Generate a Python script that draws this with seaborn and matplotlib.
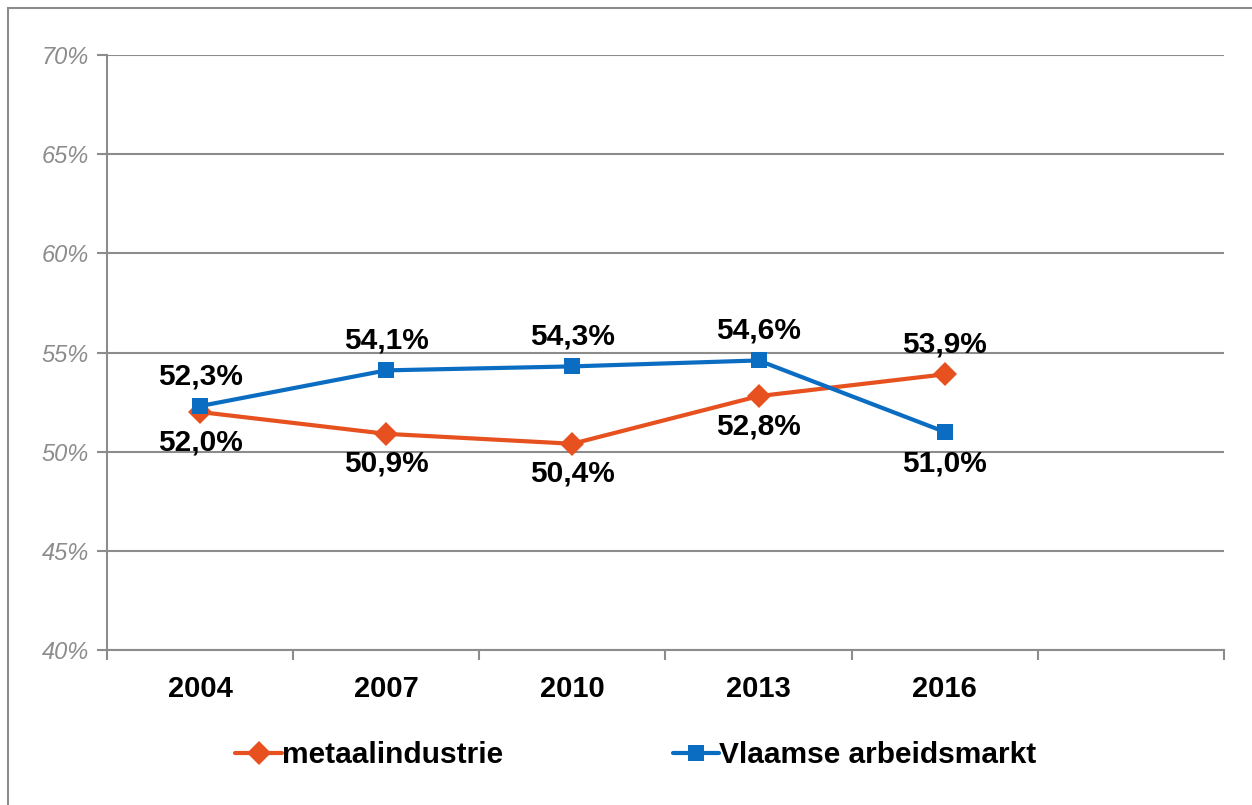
import pandas as pd
import seaborn as sns
import matplotlib.pyplot as plt
from matplotlib.patches import Rectangle
from matplotlib.ticker import FixedLocator

# Data
years = ['2004', '2007', '2010', '2013', '2016']
metaal = [52.0, 50.9, 50.4, 52.8, 53.9]
vlaams = [52.3, 54.1, 54.3, 54.6, 51.0]
series = ['metaalindustrie', 'Vlaamse arbeidsmarkt']

df = pd.DataFrame({
    'year': years * 2,
    'value': metaal + vlaams,
    'series': [series[0]] * len(years) + [series[1]] * len(years),
})

sns.set_style('white')
plt.rcParams['font.family'] = ['Liberation Sans', 'DejaVu Sans']
plt.rcParams['text.color'] = 'black'

orange = '#E6511F'
blue = '#0A6DC2'
grey = '#8C8C8C'

fig = plt.figure(figsize=(12.52, 8.05), dpi=100)
ax = fig.add_axes([0.0855, 0.1925, 0.892, 0.7392])

sns.lineplot(data=df, x='year', y='value', hue='series', style='series',
             hue_order=series, style_order=series,
             palette={series[0]: orange, series[1]: blue},
             markers={series[0]: 'D', series[1]: 's'}, dashes=False,
             linewidth=3, markersize=12, markeredgewidth=0, ax=ax)

# data labels
lab_kw = dict(fontsize=21.5, fontweight='bold', color='black', ha='center', va='center')
for i, v in enumerate(metaal):
    dy = 30 if i == 4 else -30
    ax.annotate(f'{v:.1f}%'.replace('.', ','), (i, v), xytext=(0, dy),
                textcoords='offset pixels', **lab_kw)
for i, v in enumerate(vlaams):
    dy = -32 if i == 4 else 30
    ax.annotate(f'{v:.1f}%'.replace('.', ','), (i, v), xytext=(0, dy),
                textcoords='offset pixels', **lab_kw)

ax.set_xlim(-0.5, 5.5)
ax.set_ylim(40, 70)
ax.set_yticks(range(40, 71, 5))
ax.set_yticklabels([f'{t}%' for t in range(40, 71, 5)], fontsize=17,
                   style='italic', color=grey)
ax.set_xticks(range(len(years)))
ax.set_xticklabels(years, fontsize=21, fontweight='bold', color='black')
ax.xaxis.set_minor_locator(FixedLocator([x - 0.5 for x in range(7)]))
ax.tick_params(axis='x', which='major', bottom=True, length=0, pad=18)
ax.tick_params(axis='x', which='minor', bottom=True, length=7, width=1.5,
               color=grey, direction='out')
ax.tick_params(axis='y', left=True, length=7, width=1.5, color=grey,
               direction='out', pad=6)
ax.set_xlabel('')
ax.set_ylabel('')

ax.yaxis.grid(True, color=grey, linewidth=1.5)
ax.set_axisbelow(True)
for s in ['top', 'right']:
    ax.spines[s].set_visible(False)
for s in ['left', 'bottom']:
    ax.spines[s].set_color(grey)
    ax.spines[s].set_linewidth(1.5)

handles, labels = ax.get_legend_handles_labels()
ax.get_legend().remove()
leg = fig.legend(handles, labels, loc='center', bbox_to_anchor=(0.508, 0.062), ncol=2,
                 frameon=False, prop={'size': 21.5, 'weight': 'bold'},
                 handlelength=1.55, handletextpad=0.0, columnspacing=5.7)
for t in leg.get_texts():
    t.set_color('black')

# outer chart border
fig.patches.append(Rectangle((0.0064, -0.05), 1.2, 0.04 + 1.0, transform=fig.transFigure,
                             fill=False, edgecolor=grey, linewidth=1.5))

fig.savefig('out.png', dpi=100)
